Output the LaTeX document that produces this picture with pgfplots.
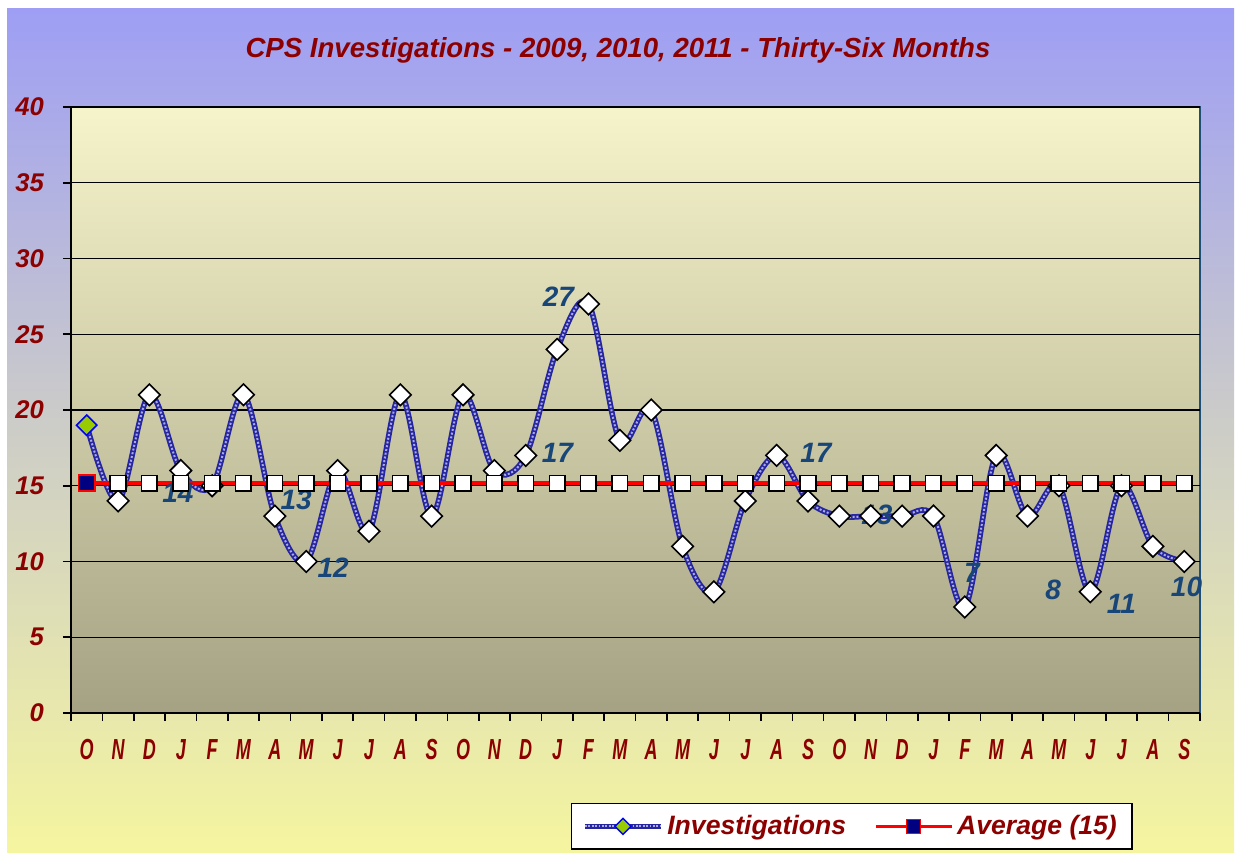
\documentclass[border=0pt]{standalone}
\usepackage{fontspec}
\setmainfont{Liberation Sans}
\usepackage{pgfplots}
\pgfplotsset{compat=1.18}
\usepackage{pgfplotstable}
\usepackage{graphicx}
\definecolor{titlered}{RGB}{140,0,0}
\definecolor{lblblue}{RGB}{24,70,120}
\definecolor{invblue}{RGB}{38,38,160}
\definecolor{invdot}{RGB}{170,170,225}
\definecolor{bgtop}{RGB}{158,158,245}
\definecolor{bgmid}{RGB}{205,205,200}
\definecolor{bgbot}{RGB}{245,245,160}
\definecolor{pltop}{RGB}{246,244,202}
\definecolor{plbot}{RGB}{165,162,132}
\definecolor{borderblue}{RGB}{31,78,121}
\definecolor{avgred}{RGB}{255,0,0}
\definecolor{navysq}{RGB}{0,0,128}
\definecolor{greend}{RGB}{153,204,0}
\newcommand\m[1]{\scalebox{0.62}[1]{#1}}
\tikzset{lbl/.style={font=\fontsize{14}{16}\selectfont\bfseries\itshape, text=lblblue}}

\pgfplotstableread{
x y
0 19
1 14
2 21
3 16
4 15
5 21
6 13
7 10
8 16
9 12
10 21
11 13
12 21
13 16
14 17
15 24
16 27
17 18
18 20
19 11
20 8
21 14
22 17
23 14
24 13
25 13
26 13
27 13
28 7
29 17
30 13
31 15
32 8
33 15
34 11
35 10
}\inv

\pgfplotstableread{
x y
0 15.17
1 15.17
2 15.17
3 15.17
4 15.17
5 15.17
6 15.17
7 15.17
8 15.17
9 15.17
10 15.17
11 15.17
12 15.17
13 15.17
14 15.17
15 15.17
16 15.17
17 15.17
18 15.17
19 15.17
20 15.17
21 15.17
22 15.17
23 15.17
24 15.17
25 15.17
26 15.17
27 15.17
28 15.17
29 15.17
30 15.17
31 15.17
32 15.17
33 15.17
34 15.17
35 15.17
}\avg

\begin{document}
\begin{tikzpicture}
\useasboundingbox (0,0) rectangle (617.5pt,426pt);
\fill[white] (0,0) rectangle (617.5pt,426pt);
\shade[top color=bgtop, bottom color=bgbot, middle color=bgmid] (3.5pt,0) rectangle (617pt,421.5pt);
\node[font=\fontsize{13.8}{16}\selectfont\bfseries\itshape, text=titlered] at (309pt,401pt) {CPS Investigations - 2009, 2010, 2011 - Thirty-Six Months};
\begin{axis}[
  at={(35.5pt,69.5pt)}, anchor=south west,
  scale only axis, width=564.5pt, height=303pt,
  xmin=-0.5, xmax=35.5, ymin=0, ymax=40,
  axis lines=left,
  axis line style={-, black, line width=1.2pt},
  axis background/.style={top color=pltop, bottom color=plbot, draw=borderblue, line width=0.6pt},
  ytick={0,5,...,40},
  ymajorgrids=true,
  major grid style={black, line width=0.7pt},
  tick align=outside,
  major tick length=4pt,
  tick style={black, line width=0.8pt},
  xtick={-0.5,0.5,...,35.5},
  xticklabels={\m{O},\m{N},\m{D},\m{J},\m{F},\m{M},\m{A},\m{M},\m{J},\m{J},\m{A},\m{S},\m{O},\m{N},\m{D},\m{J},\m{F},\m{M},\m{A},\m{M},\m{J},\m{J},\m{A},\m{S},\m{O},\m{N},\m{D},\m{J},\m{F},\m{M},\m{A},\m{M},\m{J},\m{J},\m{A},\m{S},{}},
  xticklabel style={font=\fontsize{14.5}{16}\selectfont\bfseries\itshape, text=titlered, xshift=7.84pt, yshift=-5.5pt},
  yticklabel style={font=\fontsize{12.8}{15}\selectfont\bfseries\itshape, text=titlered, xshift=-6pt},
  /pgf/number format/assume math mode=true,
  clip=false,
  legend style={at={(0.6915,-0.187)}, anchor=center, legend columns=2, draw=black, line width=0.8pt, fill=white,
    font=\fontsize{13.3}{15}\selectfont\bfseries\itshape, text=titlered,
    /tikz/every even column/.append style={column sep=12pt}, inner xsep=5.5pt, inner ysep=3.8pt},
]
\addplot[invblue, line width=2.8pt, smooth, tension=0.55, forget plot] table {\inv};
\addplot[invdot, line width=1pt, dash pattern=on 1pt off 0.9pt, smooth, tension=0.55, forget plot] table {\inv};
\addplot[only marks, mark=square*, mark size=3.8pt, mark options={rotate=45, fill=white, draw=black, line width=0.8pt}, forget plot] table[skip coords between index={0}{1}] {\inv};
\addplot[only marks, mark=square*, mark size=3.6pt, mark options={rotate=45, fill=greend, draw=blue, line width=0.8pt},
  legend image code/.code={
    \draw[invblue, line width=2.4pt] (0pt,0pt) -- (38pt,0pt);
    \draw[invdot, line width=0.9pt, dash pattern=on 0.9pt off 0.8pt] (0pt,0pt) -- (38pt,0pt);
    \path[draw=blue, fill=greend, line width=0.7pt] (19pt,4pt) -- (23pt,0pt) -- (19pt,-4pt) -- (15pt,0pt) -- cycle;
  }] coordinates {(0,19)};
\addlegendentry{Investigations}
\addplot[avgred, line width=2pt, mark=square*, mark size=3.9pt, mark options={fill=white, draw=black, line width=0.8pt}, forget plot] table {\avg};
\addplot[only marks, mark=square*, mark size=4.1pt, mark options={fill=navysq, draw=avgred, line width=0.9pt},
  legend image code/.code={
    \draw[avgred, line width=1.5pt] (0pt,0pt) -- (38pt,0pt);
    \path[draw=avgred, fill=navysq, line width=0.6pt] (15.6pt,-3.4pt) rectangle (22.4pt,3.4pt);
  }] coordinates {(0,15.17)};
\addlegendentry{Average (15)}
\node[lbl] at (axis cs:2.91,14.52) {14};
\node[lbl] at (axis cs:6.68,14.06) {13};
\node[lbl] at (axis cs:7.86,9.57) {12};
\node[lbl] at (axis cs:15.04,27.46) {27};
\node[lbl] at (axis cs:15.01,17.16) {17};
\node[lbl] at (axis cs:23.25,17.16) {17};
\node[lbl] at (axis cs:25.2,13.07) {13};
\node[lbl] at (axis cs:28.23,9.24) {7};
\node[lbl] at (axis cs:30.82,8.12) {8};
\node[lbl] at (axis cs:32.99,7.19) {11};
\node[lbl] at (axis cs:35.07,8.32) {10};
\end{axis}
\end{tikzpicture}
\end{document}
